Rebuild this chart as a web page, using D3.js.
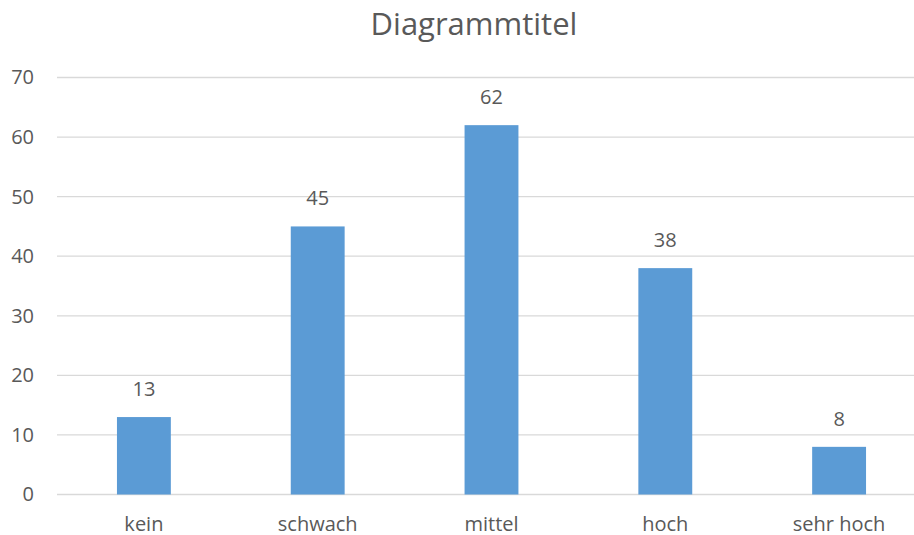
<!DOCTYPE html>
<html>
<head>
<meta charset="utf-8">
<script src="https://cdn.jsdelivr.net/npm/d3@7/dist/d3.min.js"></script>
<style>
  html, body { margin: 0; padding: 0; background: #fff; }
  svg { display: block; }
  text { font-family: "Open Sans", sans-serif; fill: #595959; }
</style>
</head>
<body>
<svg id="chart" width="914" height="535"></svg>
<script>
// Chart data
const categories = ["kein", "schwach", "mittel", "hoch", "sehr hoch"];
const values = [13, 45, 62, 38, 8];
const yTicks = [0, 10, 20, 30, 40, 50, 60, 70];
const title = "Diagrammtitel";

const svg = d3.select("#chart");
const plot = { left: 57, right: 926, top: 77.5, bottom: 494.5 };
const labelFont = "'Open Sans', sans-serif";

const x = d3.scaleBand()
  .domain(categories)
  .range([plot.left, plot.right])
  .paddingInner(0.69)
  .paddingOuter(0.345);

const y = d3.scaleLinear()
  .domain([0, 70])
  .range([plot.bottom, plot.top]);

// Horizontal gridlines
svg.append("g")
  .selectAll("line")
  .data(yTicks)
  .join("line")
  .attr("x1", plot.left)
  .attr("x2", plot.right)
  .attr("y1", d => y(d))
  .attr("y2", d => y(d))
  .attr("stroke", "#d9d9d9")
  .attr("stroke-width", 1.3);

// Y axis labels
const yAxis = d3.axisLeft(y).tickValues(yTicks).tickSize(0).tickPadding(0);
svg.append("g")
  .attr("transform", "translate(34,0)")
  .call(yAxis)
  .call(g => g.select(".domain").remove())
  .call(g => g.selectAll("text")
    .attr("font-size", 20)
    .attr("font-family", labelFont)
    .attr("fill", "#595959"));

// Bars
svg.append("g")
  .selectAll("rect")
  .data(values)
  .join("rect")
  .attr("x", (d, i) => x(categories[i]))
  .attr("width", x.bandwidth())
  .attr("y", d => y(d))
  .attr("height", d => y(0) - y(d))
  .attr("fill", "#5b9bd5");

// Value labels
svg.append("g")
  .selectAll("text")
  .data(values)
  .join("text")
  .attr("x", (d, i) => x(categories[i]) + x.bandwidth() / 2)
  .attr("y", d => y(d) - 21)
  .attr("text-anchor", "middle")
  .attr("font-size", 20)
  .text(d => d);

// X axis labels
const xAxis = d3.axisBottom(x).tickSize(0).tickPadding(0);
svg.append("g")
  .attr("transform", `translate(0,${plot.bottom})`)
  .call(xAxis)
  .call(g => g.select(".domain").remove())
  .call(g => g.selectAll("text")
    .attr("dy", null)
    .attr("y", 36)
    .attr("font-size", 20)
    .attr("font-family", labelFont)
    .attr("fill", "#595959"));

// Title
svg.append("text")
  .attr("x", 474)
  .attr("y", 35)
  .attr("text-anchor", "middle")
  .attr("font-size", 31)
  .text(title);
</script>
</body>
</html>
